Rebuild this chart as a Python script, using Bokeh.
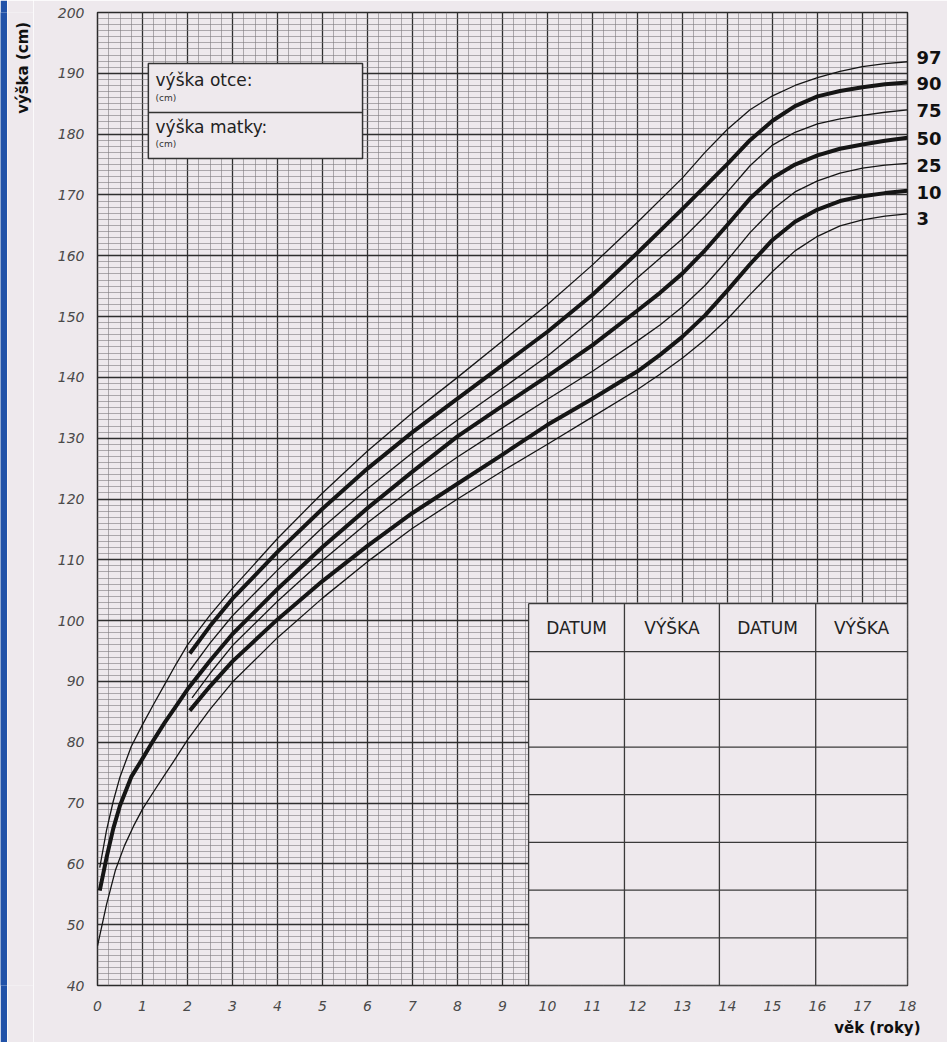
import math
from bokeh.plotting import figure
from bokeh.layouts import row
from bokeh.models import (Range1d, FixedTicker, LinearAxis, Title, CustomJSTickFormatter)
from bokeh.core.properties import value
from bokeh.embed import file_html
from bokeh.resources import INLINE

# ---------------- data ----------------
PERCENTILES = ["97", "90", "75", "50", "25", "10", "3"]
LABEL_Y = [192.6, 188.3, 183.9, 179.3, 174.9, 170.4, 166.1]

AGE_P97 = [0.05, 0.2, 0.35, 0.5, 0.75, 1.0, 1.25, 1.5, 1.75, 2.0, 2.5, 3, 4, 5, 6, 7, 8, 9, 10, 11, 12, 13, 13.5, 14, 14.5, 15, 15.5, 16, 16.5, 17, 17.5, 18]
H_P97 = [59.4, 65.5, 70.3, 74.3, 79.3, 82.9, 86.3, 89.6, 92.9, 96.0, 100.9, 105.3, 113.5, 121.0, 127.9, 134.2, 140.0, 146.0, 152.0, 158.5, 165.5, 172.8, 177.0, 180.8, 184.0, 186.3, 188.0, 189.3, 190.3, 191.1, 191.6, 191.9]

AGE_P90 = [2.05, 2.5, 3, 4, 5, 6, 7, 8, 9, 10, 11, 12, 13, 13.5, 14, 14.5, 15, 15.5, 16, 16.5, 17, 17.5, 18]
H_P90 = [94.6, 99.1, 103.6, 111.3, 118.4, 125.0, 131.0, 136.5, 142.0, 147.5, 153.6, 160.5, 167.7, 171.4, 175.1, 179.0, 182.2, 184.6, 186.2, 187.1, 187.7, 188.2, 188.5]

AGE_P75 = [2.05, 2.5, 3, 4, 5, 6, 7, 8, 9, 10, 11, 12, 13, 13.5, 14, 14.5, 15, 15.5, 16, 16.5, 17, 17.5, 18]
H_P75 = [91.8, 96.3, 100.8, 108.3, 115.3, 121.7, 127.6, 133.0, 138.2, 143.5, 149.6, 156.4, 162.8, 166.5, 170.5, 174.8, 178.2, 180.3, 181.7, 182.5, 183.1, 183.6, 184.0]

AGE_P50 = [0.05, 0.2, 0.35, 0.5, 0.75, 1.0, 1.25, 1.5, 1.75, 2.0, 2.5, 3, 4, 5, 6, 7, 8, 9, 10, 11, 12, 12.5, 13, 13.5, 14, 14.5, 15, 15.5, 16, 16.5, 17, 17.5, 18]
H_P50 = [55.6, 61.0, 65.8, 69.6, 74.3, 77.3, 80.4, 83.3, 86.0, 88.7, 93.4, 97.8, 105.2, 112.1, 118.5, 124.5, 130.3, 135.3, 140.2, 145.3, 151.0, 153.9, 157.1, 160.9, 165.1, 169.4, 172.8, 175.0, 176.5, 177.6, 178.3, 178.9, 179.4]

AGE_P25 = [2.1, 2.5, 3, 4, 5, 6, 7, 8, 9, 10, 11, 12, 12.5, 13, 13.5, 14, 14.5, 15, 15.5, 16, 16.5, 17, 17.5, 18]
H_P25 = [87.3, 91.3, 95.9, 103.2, 109.9, 116.1, 121.8, 126.9, 131.7, 136.4, 141.0, 146.0, 148.6, 151.6, 155.1, 159.3, 163.8, 167.6, 170.5, 172.3, 173.6, 174.4, 174.9, 175.2]

AGE_P10 = [2.05, 2.5, 3, 4, 5, 6, 7, 8, 9, 10, 11, 12, 12.5, 13, 13.5, 14, 14.5, 15, 15.5, 16, 16.5, 17, 17.5, 18]
H_P10 = [85.2, 89.2, 93.3, 100.2, 106.5, 112.3, 117.7, 122.5, 127.3, 132.2, 136.5, 141.0, 143.7, 146.7, 150.2, 154.3, 158.6, 162.6, 165.6, 167.6, 169.0, 169.8, 170.3, 170.7]

AGE_P3 = [0.0, 0.2, 0.4, 0.6, 0.8, 1.0, 1.25, 1.5, 1.75, 2.0, 2.5, 3, 4, 5, 6, 7, 8, 9, 10, 11, 12, 12.5, 13, 13.5, 14, 14.5, 15, 15.5, 16, 16.5, 17, 17.5, 18]
H_P3 = [46.5, 53.3, 59.0, 63.0, 66.2, 69.0, 71.9, 74.7, 77.5, 80.4, 85.4, 89.9, 97.2, 103.7, 109.7, 115.2, 120.0, 124.6, 129.0, 133.5, 138.0, 140.5, 143.2, 146.2, 149.6, 153.6, 157.4, 160.8, 163.2, 164.9, 165.9, 166.5, 166.9]

X_TICKS = list(range(0, 19))
Y_TICKS = list(range(40, 201, 10))
TABLE_HEADERS = ["DATUM", "VÝŠKA", "DATUM", "VÝŠKA"]
PARENT_LABELS = ["výška otce:", "výška matky:"]
UNIT_LABEL = "(cm)"
X_TITLE = "věk (roky)"
Y_TITLE = "výška (cm)"

# ---------------- styling ----------------
BG = "#eee9ed"
BLUE = "#2152a8"
INK = "#151515"
FONT = "DejaVu Sans"
H = 1042

# thin blue strip on the left page edge
strip = figure(width=7, height=H, x_range=Range1d(0, 1), y_range=Range1d(0, 1),
               output_backend="svg", toolbar_location=None, min_border=0)
strip.axis.visible = False
strip.grid.visible = False
strip.outline_line_color = None
strip.background_fill_color = BLUE
strip.border_fill_color = BLUE

# narrow column holding the vertical axis title
tcol = figure(width=26, height=H, x_range=Range1d(0, 26), y_range=Range1d(0, H),
              output_backend="svg", toolbar_location=None, min_border=0)
tcol.axis.visible = False
tcol.grid.visible = False
tcol.outline_line_color = None
tcol.background_fill_color = BG
tcol.border_fill_color = BG
tcol.text(x=[15], y=[H - 10], text=[Y_TITLE], angle=math.pi / 2,
          text_align="right", text_baseline="middle",
          text_font=value(FONT), text_font_style="bold", text_font_size="15px",
          text_color="#111111")

p = figure(width=914, height=H, x_range=Range1d(0, 18), y_range=Range1d(40, 200),
           output_backend="svg", toolbar_location=None,
           min_border_left=64, min_border_right=40, min_border_top=12, min_border_bottom=57)
p.background_fill_color = BG
p.border_fill_color = BG
p.outline_line_color = "#2a2a2a"
p.outline_line_width = 1.5

# grids
p.xgrid.ticker = FixedTicker(ticks=X_TICKS, minor_ticks=[i * 0.25 for i in range(0, 73)])
p.ygrid.ticker = FixedTicker(ticks=Y_TICKS, minor_ticks=list(range(40, 201)))
for g in (p.xgrid, p.ygrid):
    g.grid_line_color = "#2f2f2f"
    g.grid_line_width = 1.3
    g.minor_grid_line_color = "#7d7a7e"
    g.minor_grid_line_width = 0.8
    g.minor_grid_line_alpha = 0.75

# axes
p.xaxis.ticker = FixedTicker(ticks=X_TICKS)
p.yaxis.ticker = FixedTicker(ticks=Y_TICKS)
for ax in p.axis:
    ax.axis_line_color = None
    ax.major_tick_line_color = None
    ax.minor_tick_line_color = None
    ax.major_tick_out = 0
    ax.major_label_text_font = FONT
    ax.major_label_text_font_style = "italic"
    ax.major_label_text_font_size = "14px"
    ax.major_label_text_color = "#4a4a4a"
    ax.major_label_standoff = 13
p.xaxis.major_label_standoff = 15

# percentile labels on the right, as an extra axis
right_ax = LinearAxis(
    ticker=FixedTicker(ticks=LABEL_Y),
    formatter=CustomJSTickFormatter(
        args=dict(vals=LABEL_Y, labs=PERCENTILES),
        code="""
        let best = 0;
        for (let i = 1; i < vals.length; i++) {
            if (Math.abs(vals[i] - tick) < Math.abs(vals[best] - tick)) best = i;
        }
        return labs[best];
        """),
    axis_line_color=None, major_tick_line_color=None, minor_tick_line_color=None,
    major_tick_out=0, major_label_standoff=9,
    major_label_text_font=FONT, major_label_text_font_style="bold",
    major_label_text_font_size="18px", major_label_text_color="#111111")
p.add_layout(right_ax, "right")

# x axis title
p.add_layout(Title(text=X_TITLE, align="right", text_font=FONT, text_font_style="bold",
                   text_font_size="15px", text_color="#111111", standoff=6, offset=-13), "below")

# ---------------- parents' height box ----------------
bx0, bx1 = 1.13, 5.89
by_top, by_mid, by_bot = 191.6, 183.55, 176.0
p.quad(left=[bx0], right=[bx1], top=[by_top], bottom=[by_bot],
       fill_color=BG, line_color="#333333", line_width=1.5)
p.segment(x0=[bx0], y0=[by_mid], x1=[bx1], y1=[by_mid], line_color="#333333", line_width=1.5)
p.text(x=[bx0 + 0.16, bx0 + 0.16], y=[188.9, 181.1], text=PARENT_LABELS,
       text_font=value(FONT), text_font_size="17px", text_color="#222222",
       text_baseline="alphabetic", text_align="left")
p.text(x=[bx0 + 0.16, bx0 + 0.16], y=[186.0, 178.3], text=[UNIT_LABEL, UNIT_LABEL],
       text_font=value(FONT), text_font_size="9px", text_color="#333333",
       text_baseline="middle", text_align="left")

# ---------------- measurement table ----------------
tx = [9.58, 11.71, 13.82, 15.96, 18.0]
ty_top, ty_head, ty_bot = 102.8, 94.9, 40.0
n_rows = 7
p.quad(left=[tx[0]], right=[tx[-1]], top=[ty_top], bottom=[ty_bot],
       fill_color=BG, line_color=None)
row_step = (ty_head - ty_bot) / n_rows
hy = [ty_top, ty_head] + [ty_head - row_step * (i + 1) for i in range(n_rows)]
p.segment(x0=[tx[0]] * len(hy), y0=hy, x1=[tx[-1]] * len(hy), y1=hy,
          line_color="#3a3a3a", line_width=1.3)
p.segment(x0=tx, y0=[ty_top] * len(tx), x1=tx, y1=[ty_bot] * len(tx),
          line_color="#3a3a3a", line_width=1.3)
p.text(x=[(tx[i] + tx[i + 1]) / 2 for i in range(4)], y=[(ty_top + ty_head) / 2] * 4,
       text=TABLE_HEADERS, text_font=value(FONT), text_font_size="17px",
       text_color="#222222", text_align="center", text_baseline="middle")

# ---------------- percentile curves ----------------
series = [
    (AGE_P97, H_P97, 1.3),
    (AGE_P90, H_P90, 4.0),
    (AGE_P75, H_P75, 1.3),
    (AGE_P50, H_P50, 4.0),
    (AGE_P25, H_P25, 1.3),
    (AGE_P10, H_P10, 4.0),
    (AGE_P3, H_P3, 1.3),
]
for ages, hs, w in series:
    p.line(ages, hs, line_color=INK, line_width=w, line_join="round", line_cap="butt")

page = row(strip, tcol, p, spacing=0)
open("out.html", "w").write(file_html(page, INLINE))
